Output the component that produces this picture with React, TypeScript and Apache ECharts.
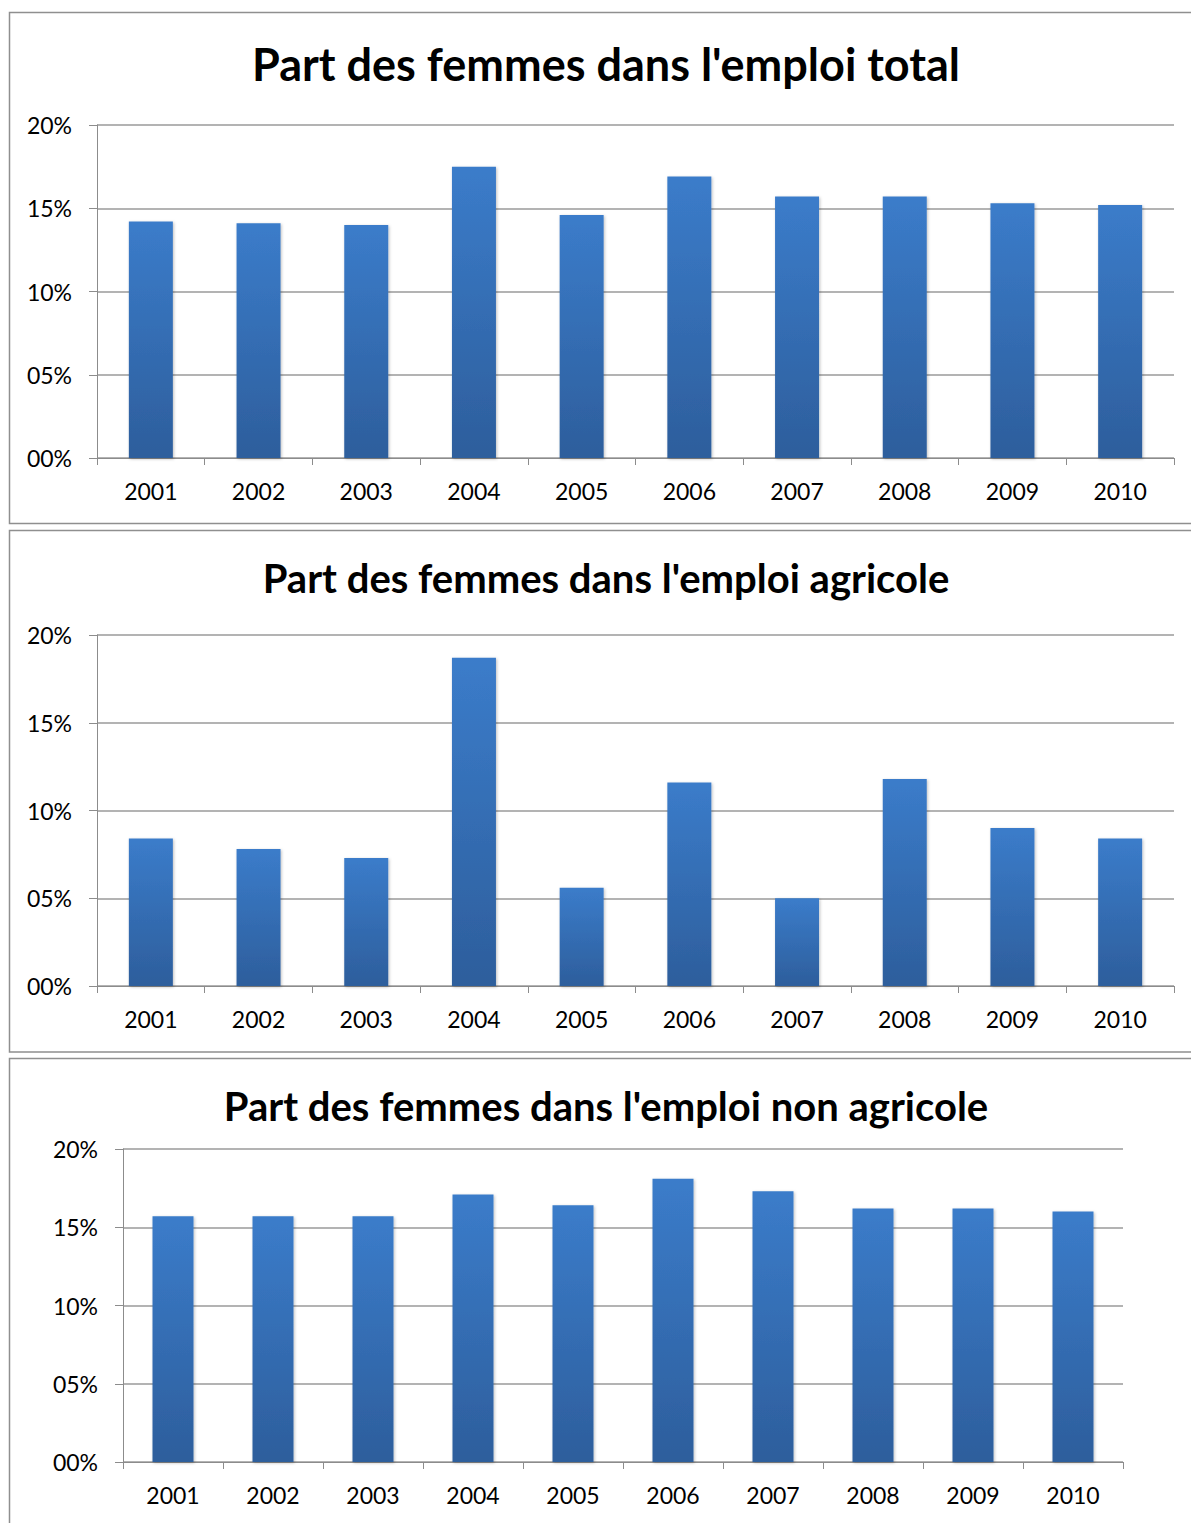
import React, { useEffect, useRef } from "react";
import * as echarts from "echarts";

const years = ["2001", "2002", "2003", "2004", "2005", "2006", "2007", "2008", "2009", "2010"];
const totalShare = [14.2, 14.1, 14.0, 17.5, 14.6, 16.9, 15.7, 15.7, 15.3, 15.2];
const agriShare = [8.4, 7.8, 7.3, 18.7, 5.6, 11.6, 5.0, 11.8, 9.0, 8.4];
const nonAgriShare = [15.7, 15.7, 15.7, 17.1, 16.4, 18.1, 17.3, 16.2, 16.2, 16.0];
const titles = [
  "Part des femmes dans l'emploi total",
  "Part des femmes dans l'emploi agricole",
  "Part des femmes dans l'emploi non agricole",
];

const FONT = "Lato";
const GRID_COLOR = "#9a9a9a";
const AXIS_COLOR = "#8c8c8c";
const BORDER_COLOR = "#8f8f8f";

const barGradient = () =>
  new echarts.graphic.LinearGradient(0, 0, 0, 1, [
    { offset: 0, color: "#3b7cca" },
    { offset: 1, color: "#2d5e9c" },
  ]);

export default function App() {
  const ref = useRef<HTMLDivElement>(null);
  useEffect(() => {
    if (!ref.current) return;
    const chart = echarts.init(ref.current, undefined, { renderer: "svg" });
    const grids = [
      { left: 97, top: 125, width: 1077, height: 333 },
      { left: 97, top: 635, width: 1077, height: 351 },
      { left: 123, top: 1149, width: 1000, height: 313 },
    ];
    const seriesData = [totalShare, agriShare, nonAgriShare];
    const barWidths = [44, 44, 41];
    const titleY = [64, 578, 1106];
    const titleSize = [45, 40, 40];
    const fmt = (v: number) => String(Math.round(v)).padStart(2, "0") + "%";

    chart.setOption({
      animation: false,
      backgroundColor: "#ffffff",
      textStyle: { fontFamily: FONT },
      grid: grids.map((g) => ({ ...g, outerBoundsMode: "none", containLabel: false })),
      xAxis: grids.map((_, i) => ({
        type: "category",
        gridIndex: i,
        data: years,
        boundaryGap: true,
        axisLine: { show: true, lineStyle: { color: AXIS_COLOR, width: 1 } },
        axisTick: { show: true, length: 7, alignWithLabel: false, lineStyle: { color: AXIS_COLOR } },
        axisLabel: { color: "#000", fontSize: 23, fontFamily: FONT, margin: 21 },
        splitLine: { show: false },
      })),
      yAxis: grids.map((_, i) => ({
        type: "value",
        gridIndex: i,
        min: 0,
        max: 20,
        interval: 5,
        axisLine: { show: true, lineStyle: { color: AXIS_COLOR, width: 1 } },
        axisTick: { show: true, length: 8, lineStyle: { color: AXIS_COLOR } },
        axisLabel: { color: "#000", fontSize: 23, fontFamily: FONT, margin: 25, formatter: fmt },
        splitLine: { show: true, lineStyle: { color: GRID_COLOR, width: 1.5 } },
      })),
      series: seriesData.map((d, i) => ({
        type: "bar",
        xAxisIndex: i,
        yAxisIndex: i,
        data: d,
        barWidth: barWidths[i],
        itemStyle: {
          color: barGradient(),
          shadowColor: "rgba(0,0,0,0.25)",
          shadowBlur: 3,
          shadowOffsetX: 1,
          shadowOffsetY: 1,
        },
      })),
      graphic: [
        {
          type: "rect",
          shape: { x: 9.5, y: 12.5, width: 1200, height: 511 },
          style: { fill: "none", stroke: BORDER_COLOR, lineWidth: 1.5 },
          silent: true,
          z: -1,
        },
        {
          type: "rect",
          shape: { x: 9.5, y: 530.5, width: 1200, height: 521.5 },
          style: { fill: "none", stroke: BORDER_COLOR, lineWidth: 1.5 },
          silent: true,
          z: -1,
        },
        {
          type: "rect",
          shape: { x: 9.5, y: 1058.5, width: 1200, height: 500 },
          style: { fill: "none", stroke: BORDER_COLOR, lineWidth: 1.5 },
          silent: true,
          z: -1,
        },
        ...titles.map((t, i) => ({
          type: "text",
          x: 606,
          y: titleY[i],
          style: {
            text: t,
            fill: "#000",
            font: `bold ${titleSize[i]}px ${FONT}`,
            align: "center",
            verticalAlign: "middle",
          },
        })),
      ],
    });
    return () => chart.dispose();
  }, []);
  return (
    <div
      ref={ref}
      style={{ position: "absolute", left: 0, top: 0, width: 1191, height: 1523 }}
    />
  );
}
